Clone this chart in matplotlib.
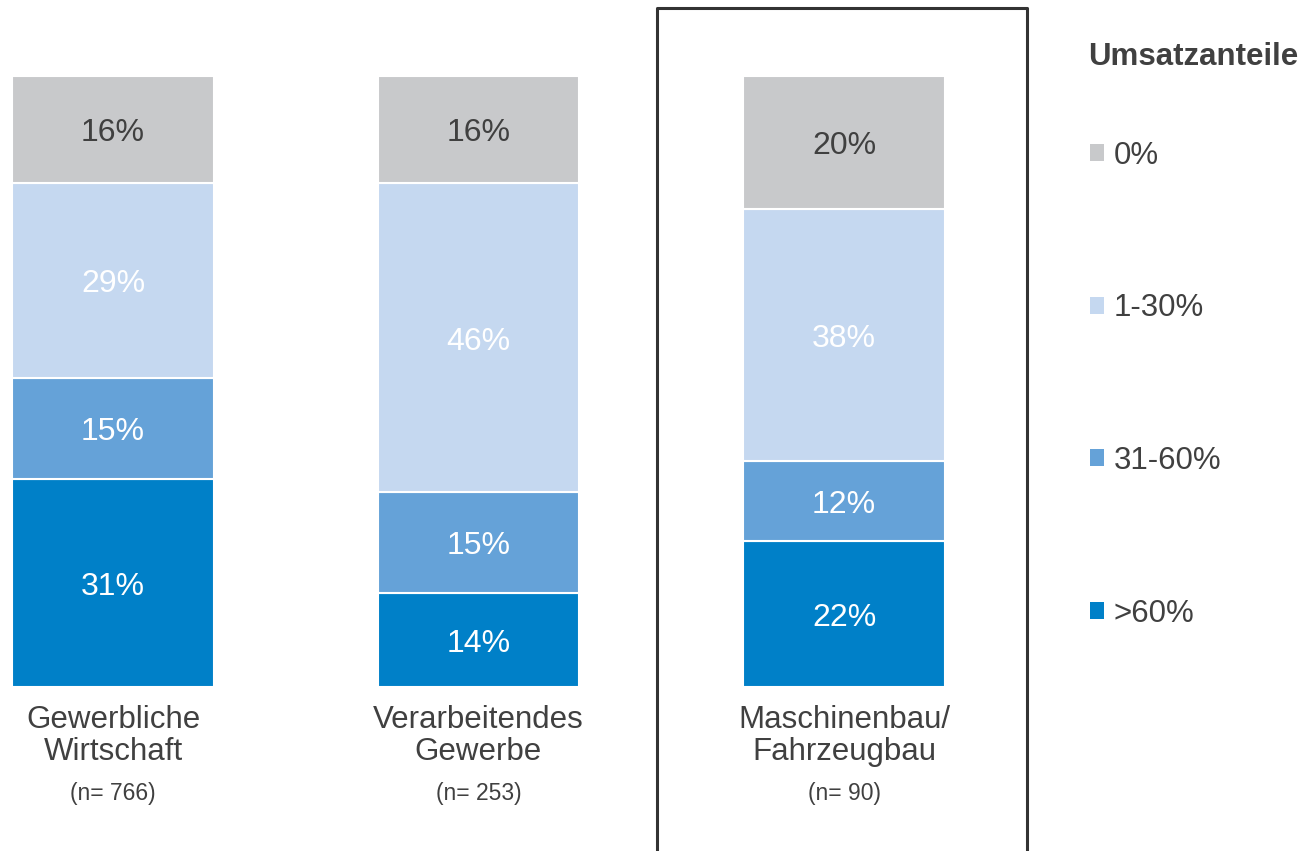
import matplotlib.pyplot as plt
from matplotlib.lines import Line2D
import numpy as np

plt.rcParams['font.family'] = ['Liberation Sans', 'DejaVu Sans']

categories = ['Gewerbliche\nWirtschaft', 'Verarbeitendes\nGewerbe', 'Maschinenbau/\nFahrzeugbau']
n_labels = ['(n= 766)', '(n= 253)', '(n= 90)']
series = ['>60%', '31-60%', '1-30%', '0%']
values = {
    '>60%': [31, 14, 22],
    '31-60%': [15, 15, 12],
    '1-30%': [29, 46, 38],
    '0%': [16, 16, 20],
}
colors = {'>60%': '#0080C8', '31-60%': '#65A2D8', '1-30%': '#C5D8F0', '0%': '#C8C9CB'}
label_colors = {'>60%': 'white', '31-60%': 'white', '1-30%': 'white', '0%': '#404040'}
text_col = '#404040'

W, H = 1307, 851
fig = plt.figure(figsize=(W / 100, H / 100), dpi=100)
ax = fig.add_axes([0, (H - 687) / H, 1, 611 / H])

x = np.arange(len(categories))
totals = np.sum([values[s] for s in series], axis=0)
bottom = np.zeros(len(categories))
handles = {}
for s in series:
    v = np.array(values[s], dtype=float)
    share = v / totals * 100
    bars = ax.bar(x, share, 0.55, bottom=bottom, color=colors[s], edgecolor='white', linewidth=1.5)
    handles[s] = bars
    for xi, b, h, raw in zip(x, bottom, share, v):
        ax.text(xi, b + h / 2 - 0.6, f'{int(raw)}%', ha='center', va='center',
                fontsize=23, color=label_colors[s])
    bottom += share

px = 365.5
ax.set_xlim(-113 / px, (W - 113) / px)
ax.set_ylim(0, 100)
ax.axis('off')

for xi, cat, n in zip(x, categories, n_labels):
    ax.text(xi, -2.9, cat, ha='center', va='top', fontsize=22.5, color=text_col,
            linespacing=1.08)
    ax.text(xi, -15.6, n, ha='center', va='top', fontsize=16.5, color=text_col)

# Rahmen um Maschinenbau/Fahrzeugbau (unten offen)
frame_x = [657 / W, 657 / W, 1027 / W, 1027 / W]
frame_y = [-0.05, 1 - 8 / H, 1 - 8 / H, -0.05]
fig.add_artist(Line2D(frame_x, frame_y, transform=fig.transFigure,
                      color='#333333', linewidth=2.2, clip_on=False))

fig.text(1088 / W, 1 - 57 / H, 'Umsatzanteile', fontsize=22.5, fontweight='bold',
         color=text_col, ha='left', va='center')
leg = fig.legend([handles[s] for s in series[::-1]], series[::-1],
                 loc='upper left', bbox_to_anchor=(1090 / W, 1 - 141 / H),
                 frameon=False, fontsize=22.5, labelcolor=text_col,
                 handlelength=0.45, handleheight=0.45, handletextpad=0.3,
                 labelspacing=3.92, borderpad=0, borderaxespad=0)
for p in leg.get_patches():
    p.set_edgecolor('none')

fig.savefig('out.png', dpi=100)
